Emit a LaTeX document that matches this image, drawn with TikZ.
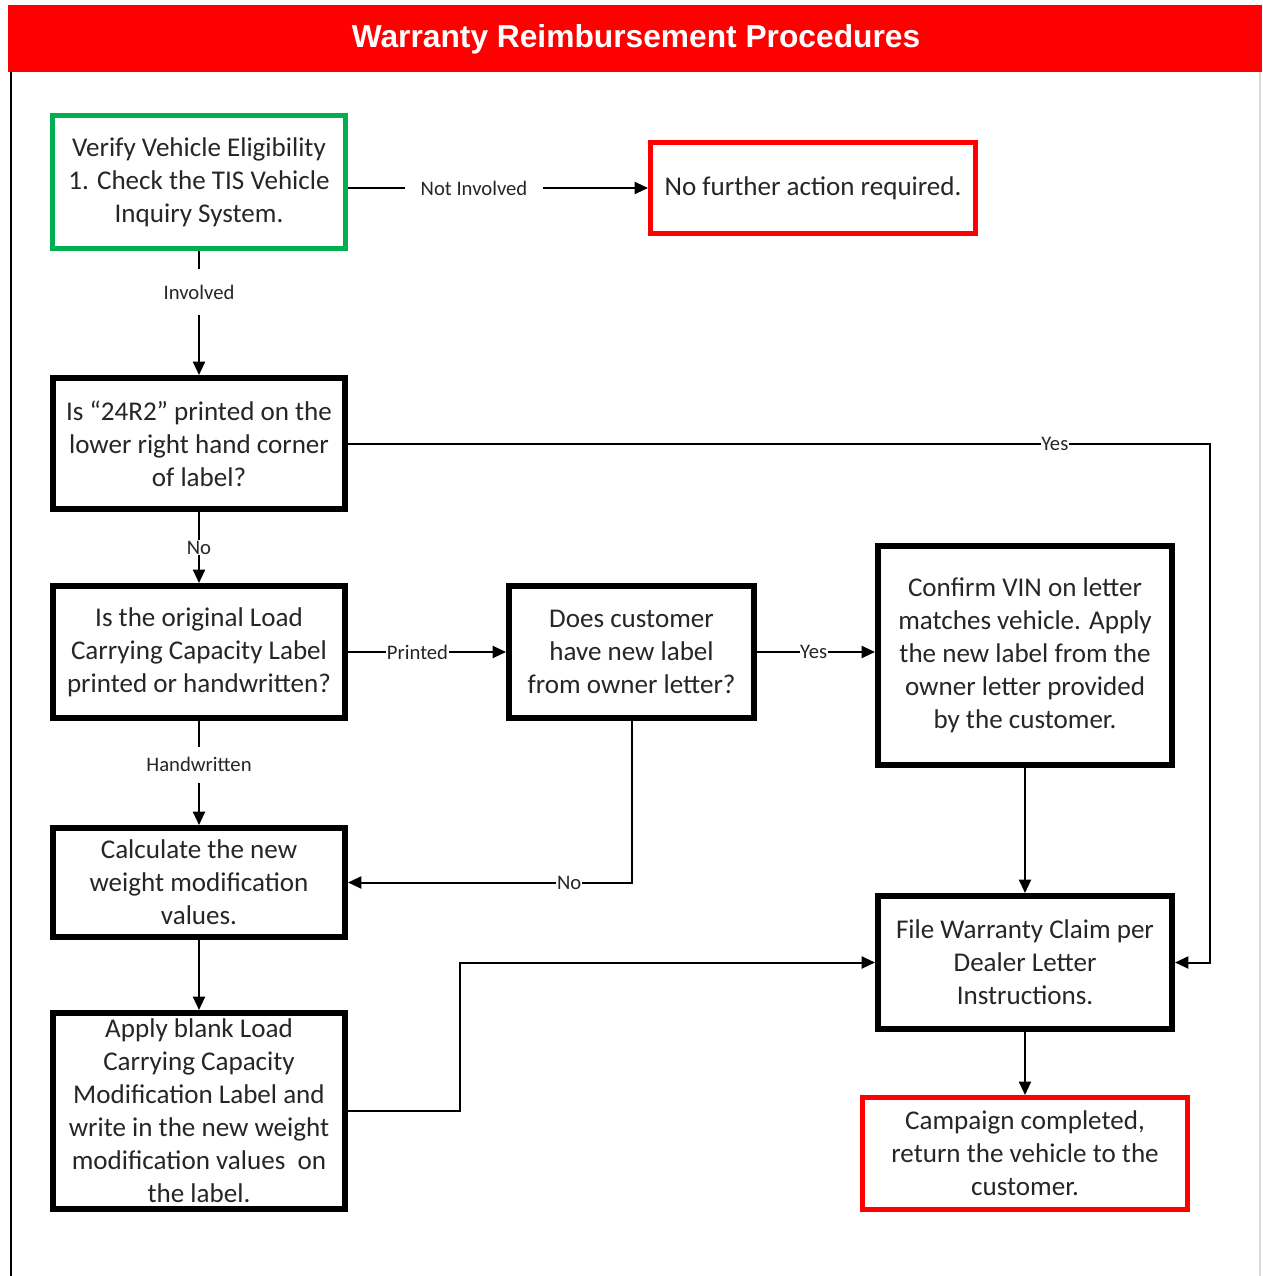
\documentclass[tikz,border=0pt]{standalone}
\usepackage{fontspec}
\setmainfont{Carlito}
\newfontfamily\titlefont{Liberation Sans}
\usetikzlibrary{arrows.meta}
\definecolor{barred}{RGB}{255,0,0}
\definecolor{boxgreen}{RGB}{0,176,80}
\begin{document}
\begin{tikzpicture}[x=0.75pt,y=-0.75pt,
		box/.style={draw=black,line width=4.5pt,fill=white,inner sep=0pt,align=center,
			text=black!85,font=\fontsize{20.3}{24.7}\selectfont},
		startbox/.style={box,draw=boxgreen,line width=3.75pt},
		endbox/.style={box,draw=barred,line width=3.75pt},
		flow/.style={line width=1.5pt,-{Triangle[length=10pt,width=9pt]}},
		lbl/.style={fill=white,inner sep=0.5pt,text=black!85,font=\fontsize{15.5}{18}\selectfont},
		widelbl/.style={lbl,inner xsep=12pt,inner ysep=12pt}]
		\useasboundingbox (0,0) rectangle (1262,1276);
		% Frame and title bar
		\fill[barred] (8,5) rectangle (1262,72);
		\node[text=white,font=\titlefont\bfseries\fontsize{23.8}{28}\selectfont] (title) at (636,39) {Warranty Reimbursement Procedures};
		\draw[line width=1.5pt] (11,72) -- (11,1276);
		\draw[black!15,line width=1pt] (1260,72) -- (1260,1276);
		% Boxes
		\node[startbox,minimum width=219.75pt,minimum height=99.75pt] (verify) at (199,182) {Verify Vehicle Eligibility\\1. Check the TIS Vehicle\\Inquiry System.};
		\node[endbox,minimum width=243.75pt,minimum height=68.25pt] (nofurther) at (813,188) {No further action required.};
		\node[box,minimum width=219pt,minimum height=98.25pt] (q24) at (199,443.5) {Is “24R2” printed on the\\lower right hand corner\\of label?};
		\node[box,minimum width=219pt,minimum height=99pt] (qorig) at (199,652) {Is the original Load\\Carrying Capacity Label\\printed or handwritten?};
		\node[box,minimum width=183.75pt,minimum height=99pt] (qnew) at (631.5,652) {Does customer\\have new label\\from owner letter?};
		\node[box,minimum width=220.5pt,minimum height=164.25pt] (confirm) at (1025,655.5) {Confirm VIN on letter\\matches vehicle. Apply\\the new label from the\\owner letter provided\\by the customer.};
		\node[box,minimum width=219pt,minimum height=81.75pt] (calc) at (199,882.5) {Calculate the new\\weight modification\\values.};
		\node[box,minimum width=219pt,minimum height=147pt] (apply) at (199,1111) {Apply blank Load\\Carrying Capacity\\Modification Label and\\write in the new weight\\modification values~~on\\the label.};
		\node[box,minimum width=220.5pt,minimum height=99.75pt] (file) at (1025,962.5) {File Warranty Claim per\\Dealer Letter\\Instructions.};
		\node[endbox,minimum width=243.75pt,minimum height=84pt] (campaign) at (1025,1153.5) {Campaign completed,\\return the vehicle to the\\customer.};
		% Bend points
		\coordinate (yesbend) at (1210,0);
		\coordinate (applyjog) at (460,0);
		% Connectors
		\draw[flow] (verify.east |- nofurther) -- node[widelbl,pos=0.42]{Not Involved} (nofurther.west);
		\draw[flow] (verify.south) -- node[widelbl,pos=0.33]{Involved} (q24.north);
		\draw[flow] (q24.east) -- node[lbl,pos=0.82]{Yes} (q24.east -| yesbend) |- (file.east);
		\draw[flow] (q24.south) -- node[lbl,pos=0.5]{No} (qorig.north);
		\draw[flow] (qorig.east) -- node[lbl,pos=0.44]{Printed} (qnew.west);
		\draw[flow] (qnew.east) -- node[lbl,pos=0.48]{Yes} (qnew.east -| confirm.west);
		\draw[flow] (qnew.south) |- node[lbl,pos=0.61]{No} (calc.east);
		\draw[flow] (qorig.south) -- node[widelbl,pos=0.42,inner ysep=8pt]{Handwritten} (calc.north);
		\draw[flow] (calc.south) -- (apply.north);
		\draw[flow] (apply.east) -- (apply.east -| applyjog) |- (file.west);
		\draw[flow] (confirm.south) -- (file.north);
		\draw[flow] (file.south) -- (campaign.north);
	\end{tikzpicture}
\end{document}
